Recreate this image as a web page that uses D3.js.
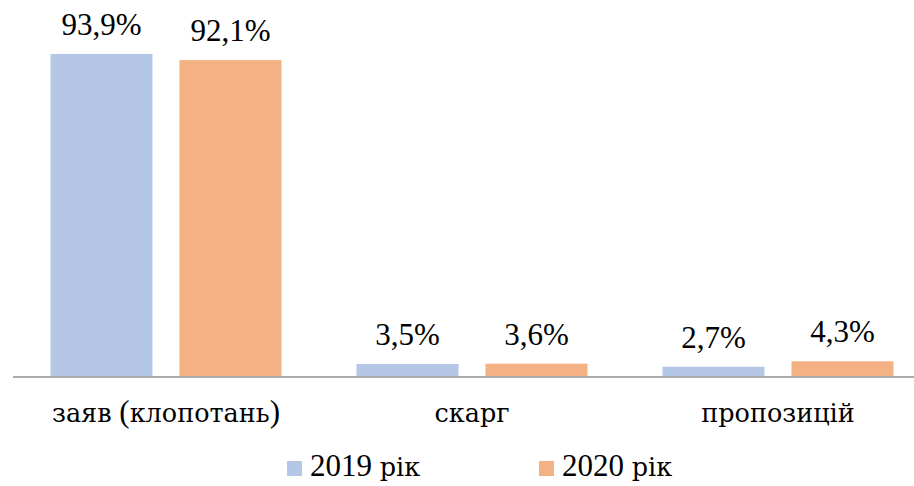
<!DOCTYPE html>
<html>
<head>
<meta charset="utf-8">
<script src="https://cdn.jsdelivr.net/npm/d3@7"></script>
</head>
<body style="margin:0">
<svg id="chart" width="914" height="486" style="display:block"></svg>
<script>
const categories = ["заяв (клопотань)", "скарг", "пропозицій"];
const seriesNames = ["2019 рік", "2020 рік"];
const values2019 = [93.9, 3.5, 2.7];
const values2020 = [92.1, 3.6, 4.3];
const valueLabels2019 = ["93,9%", "3,5%", "2,7%"];
const valueLabels2020 = ["92,1%", "3,6%", "4,3%"];
const colors = ["#B4C7E7", "#F4B183"];

const LATIN_FONT = '"Liberation Serif", Tinos, "Times New Roman"';
const CYR_FONT = '"DejaVu Serif", "Liberation Serif"';
const FS = 31, CYR_FS = 25.5;

// writes a string into a text element, Cyrillic runs in a serif font that has Cyrillic glyphs
function setRichText(sel, str) {
  sel.text(null).style("font-family", LATIN_FONT).style("font-size", FS + "px").attr("fill", "#000");
  str.split(/([\u0400-\u04FF]+)/).filter(s => s.length).forEach(part => {
    const cyr = /[\u0400-\u04FF]/.test(part);
    sel.append("tspan")
      .style("font-family", cyr ? CYR_FONT : LATIN_FONT)
      .style("font-size", (cyr ? CYR_FS : FS) + "px")
      .text(part);
  });
}

const svg = d3.select("#chart");
const baseline = 376;
const plotLeft = 13, plotRight = 931;

const x0 = d3.scaleBand().domain(categories).range([plotLeft, plotRight]).paddingInner(0).paddingOuter(0);
const x1 = d3.scaleBand().domain(seriesNames).range([37.5, x0.bandwidth() - 37.5]).paddingInner(27 / 129).paddingOuter(0);
const y = d3.scaleLinear().domain([0, 100]).range([baseline, baseline - 343]);

const data = categories.map((c, i) => ({
  cat: c,
  vals: [
    { s: seriesNames[0], v: values2019[i], label: valueLabels2019[i], color: colors[0] },
    { s: seriesNames[1], v: values2020[i], label: valueLabels2020[i], color: colors[1] }
  ]
}));

const groups = svg.selectAll("g.grp").data(data).enter().append("g")
  .attr("transform", d => `translate(${x0(d.cat)},0)`);

groups.selectAll("rect").data(d => d.vals).enter().append("rect")
  .attr("x", d => x1(d.s))
  .attr("width", x1.bandwidth())
  .attr("y", d => y(d.v))
  .attr("height", d => baseline - y(d.v))
  .attr("fill", d => d.color);

groups.selectAll("text.val").data(d => d.vals).enter().append("text")
  .attr("class", "val")
  .attr("x", d => x1(d.s) + x1.bandwidth() / 2)
  .attr("y", d => y(d.v) - 19)
  .attr("text-anchor", "middle")
  .each(function (d) { setRichText(d3.select(this), d.label); });

// axis
const xAxis = d3.axisBottom(x0).tickSize(0).tickPadding(0);
const ax = svg.append("g").attr("transform", `translate(0,${baseline})`).call(xAxis);
ax.attr("font-family", LATIN_FONT).attr("font-size", FS);
ax.select(".domain").attr("stroke", "#ababab").attr("stroke-width", 2).attr("d", `M${plotLeft},1H${plotRight}`);
ax.selectAll(".tick text")
  .attr("y", 46)
  .attr("dy", 0)
  .each(function (d) { setRichText(d3.select(this), d); });

// legend
const legendX = [287, 539];
const leg = svg.selectAll("g.leg").data(seriesNames).enter().append("g")
  .attr("transform", (d, i) => `translate(${legendX[i]},461)`);
leg.append("rect").attr("width", 15).attr("height", 15).attr("fill", (d, i) => colors[i]);
leg.append("text").attr("x", 23).attr("y", 15)
  .each(function (d) { setRichText(d3.select(this), d); });
</script>
</body>
</html>
